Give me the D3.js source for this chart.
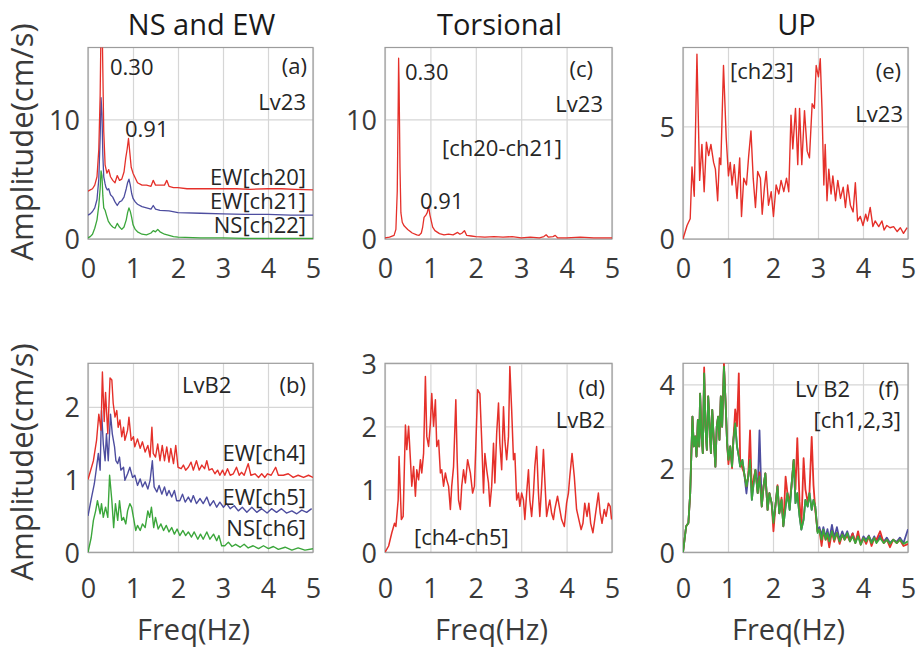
<!DOCTYPE html>
<html><head><meta charset="utf-8">
<script src="https://cdn.jsdelivr.net/npm/d3@7"></script>
<style>
html,body{margin:0;padding:0;background:#fff;}
svg{display:block;font-family:"Open Sans","Noto Sans",sans-serif;}
</style></head>
<body><div id="chart"></div>
<script>
// ---------------- DATA ----------------
const xTicks = [0,1,2,3,4,5];
const titles = ["NS and EW","Torsional","UP"];
const yLabel = "Amplitude(cm/s)";
const xLabel = "Freq(Hz)";

// (a) Lv23 NS and EW
const fA_ew20 = [0,0.05,0.1,0.15,0.2,0.24,0.27,0.29,0.31,0.33,0.35,0.38,0.42,0.46,0.5,0.55,0.6,0.65,0.7,0.75,0.8,0.84,0.87,0.9,0.93,0.96,1.0,1.05,1.1,1.2,1.3,1.4,1.45,1.5,1.6,1.7,1.75,1.8,1.9,2.0,2.2,2.5,2.8,3.0,3.3,3.6,4.0,4.3,4.6,5.0];
const aA_ew20 = [4.0,4.1,4.2,4.5,5.2,7.5,12,18,19,14,9,6.2,5.5,5.8,5.2,4.9,4.7,5.3,4.9,5.0,5.6,6.8,7.5,8.4,7.2,6.0,5.5,5.1,4.7,4.5,4.5,4.4,4.9,4.5,4.5,4.5,4.9,4.4,4.3,4.3,4.2,4.2,4.2,4.2,4.2,4.15,4.2,4.2,4.15,4.1];
const fA_ew21 = [0,0.05,0.1,0.15,0.2,0.24,0.27,0.29,0.31,0.33,0.35,0.38,0.4,0.43,0.46,0.5,0.55,0.6,0.65,0.7,0.75,0.8,0.85,0.88,0.91,0.94,0.97,1.0,1.05,1.1,1.2,1.3,1.4,1.45,1.5,1.6,1.8,2.0,2.5,3.0,3.5,4.0,4.5,5.0];
const aA_ew21 = [2.0,2.1,2.3,2.6,3.3,5,8.5,11.8,10.5,7,5.2,4.6,4.3,4.1,4.2,3.7,3.5,3.1,2.8,3.1,3.2,3.5,4.2,4.7,5.0,4.5,3.8,3.4,3.1,2.9,2.7,2.6,2.5,2.8,2.5,2.4,2.35,2.2,2.15,2.1,2.05,2.05,2.0,2.0];
const fA_ns22 = [0,0.05,0.1,0.15,0.2,0.24,0.27,0.29,0.31,0.33,0.35,0.38,0.41,0.45,0.5,0.55,0.6,0.65,0.7,0.75,0.8,0.85,0.88,0.91,0.94,0.97,1.0,1.05,1.1,1.2,1.3,1.4,1.45,1.5,1.55,1.6,1.7,1.8,1.9,2.0,2.5,3.0,3.5,4.0,4.5,5.0];
const aA_ns22 = [0.1,0.2,0.4,0.9,1.6,2.8,4.2,5.7,5.3,3.6,2.6,2.4,2.0,1.5,1.2,1.0,0.9,1.3,1.0,0.8,1.0,1.6,2.2,2.6,2.3,1.8,1.2,0.8,0.6,0.4,0.35,0.5,0.7,0.6,0.8,0.6,0.4,0.3,0.2,0.15,0.1,0.1,0.05,0.05,0.05,0.05];

// (c) Lv23 torsional [ch20-ch21]
const fC = [0,0.1,0.2,0.24,0.27,0.29,0.3,0.31,0.33,0.35,0.38,0.42,0.5,0.6,0.7,0.75,0.8,0.83,0.86,0.9,0.93,0.96,0.99,1.02,1.05,1.1,1.2,1.3,1.4,1.5,1.6,1.65,1.7,1.75,1.8,1.9,2.0,2.2,2.4,2.6,2.8,3.0,3.2,3.4,3.5,3.55,3.6,3.7,3.75,3.8,4.0,4.3,4.6,5.0];
const aC = [0.1,0.15,0.3,0.8,4,11,15.1,13,6,2.2,1.4,1.1,0.8,0.5,0.35,0.3,0.5,1.0,1.8,2.0,2.2,2.7,2.0,1.5,1.0,0.7,0.45,0.35,0.4,0.35,0.55,0.4,0.5,0.7,0.3,0.25,0.2,0.15,0.2,0.15,0.2,0.1,0.15,0.1,0.2,0.35,0.15,0.2,0.3,0.1,0.1,0.15,0.1,0.1];

// (e) Lv23 UP [ch23]
const fE = [0,0.09,0.16,0.2,0.25,0.31,0.37,0.42,0.47,0.52,0.57,0.62,0.68,0.72,0.77,0.81,0.84,0.9,0.96,1.01,1.05,1.09,1.14,1.2,1.26,1.3,1.35,1.41,1.46,1.51,1.56,1.61,1.66,1.72,1.76,1.81,1.85,1.9,1.96,2.01,2.07,2.13,2.18,2.24,2.3,2.35,2.4,2.44,2.5,2.55,2.59,2.64,2.7,2.76,2.81,2.87,2.92,2.96,3.01,3.05,3.09,3.13,3.16,3.2,3.24,3.29,3.33,3.39,3.44,3.5,3.56,3.61,3.66,3.72,3.78,3.83,3.88,3.94,4.0,4.06,4.1,4.16,4.22,4.27,4.35,4.42,4.47,4.53,4.6,4.68,4.76,4.83,4.9,4.98];
const aE = [0,0.6,0.9,3.2,1.9,8.2,2.6,4.2,2.1,4.3,3.7,4.2,3.4,3.1,1.7,3.6,3.3,7.7,4.5,2.8,3.4,2.4,3.3,1.8,3.6,1.0,2.7,2.4,3.7,4.8,2.7,1.4,3.0,2.7,1.1,2.3,3.0,1.5,2.1,1.0,2.4,2.0,2.6,2.1,2.7,2.1,5.5,4.0,5.8,3.3,5.8,3.3,5.7,3.9,3.6,6.0,5.8,7.7,7.2,8.0,5.7,2.4,4.2,1.7,3.1,2.0,2.8,1.7,2.6,1.8,2.3,1.4,2.4,1.5,1.2,2.5,0.8,1.0,0.6,1.1,0.8,1.4,0.55,0.8,0.55,0.8,0.4,0.6,0.5,0.55,0.33,0.5,0.25,0.5];

// (b) LvB2 NS and EW
const fB_ew4 = [0,0.12,0.19,0.24,0.29,0.32,0.36,0.39,0.44,0.49,0.53,0.56,0.6,0.64,0.67,0.71,0.75,0.79,0.82,0.88,0.91,0.96,1.01,1.04,1.1,1.16,1.21,1.27,1.33,1.38,1.42,1.45,1.5,1.55,1.6,1.65,1.7,1.75,1.8,1.84,1.9,1.95,2.0,2.07,2.12,2.17,2.23,2.29,2.34,2.41,2.47,2.53,2.59,2.64,2.69,2.76,2.82,2.88,2.93,2.99,3.04,3.1,3.16,3.23,3.3,3.36,3.41,3.47,3.56,3.62,3.71,3.79,3.86,3.93,3.99,4.07,4.17,4.23,4.34,4.45,4.56,4.67,4.79,4.9,5.0];
const aB_ew4 = [1.0,1.26,1.54,1.9,1.68,2.48,1.8,2.2,1.63,2.4,2.37,2.05,1.86,1.95,1.72,1.82,1.59,1.72,1.54,1.68,1.86,1.54,1.59,1.45,1.56,1.43,1.52,1.38,1.47,1.31,1.72,1.36,1.31,1.49,1.26,1.47,1.26,1.45,1.24,1.43,1.22,1.47,1.17,1.15,1.2,1.13,1.17,1.24,1.13,1.26,1.13,1.2,1.15,1.26,1.13,1.15,1.08,1.13,1.06,1.13,1.06,1.15,1.06,1.08,1.17,1.06,1.1,1.06,1.22,1.06,1.08,1.03,1.08,1.03,1.08,1.06,1.17,1.06,1.06,1.08,1.03,1.06,1.03,1.06,1.03];
const fB_ew5 = [0,0.08,0.14,0.19,0.23,0.27,0.3,0.34,0.38,0.41,0.45,0.5,0.54,0.59,0.62,0.66,0.7,0.73,0.79,0.82,0.88,0.93,0.99,1.04,1.1,1.16,1.21,1.27,1.33,1.38,1.43,1.47,1.53,1.58,1.64,1.7,1.75,1.8,1.86,1.92,1.97,2.04,2.1,2.16,2.23,2.29,2.34,2.41,2.49,2.56,2.64,2.71,2.79,2.86,2.93,3.01,3.08,3.16,3.25,3.34,3.43,3.53,3.64,3.75,3.86,3.98,4.08,4.19,4.3,4.41,4.53,4.64,4.75,4.86,4.97];
const aB_ew5 = [0.5,0.76,0.94,1.17,1.36,1.13,1.95,1.49,1.26,1.63,1.26,1.9,1.63,1.45,1.26,1.22,1.31,1.13,1.17,0.99,1.08,1.17,1.03,1.06,0.92,1.01,0.9,0.97,0.87,0.99,1.26,0.9,0.83,0.92,0.8,0.9,0.78,0.85,0.76,0.85,0.71,0.71,0.8,0.69,0.76,0.69,0.78,0.67,0.74,0.67,0.76,0.64,0.71,0.62,0.69,0.62,0.67,0.6,0.64,0.57,0.62,0.55,0.62,0.55,0.6,0.54,0.6,0.55,0.6,0.54,0.57,0.53,0.58,0.55,0.6];
const fB_ns6 = [0,0.07,0.12,0.17,0.21,0.27,0.3,0.34,0.39,0.44,0.48,0.53,0.57,0.61,0.66,0.7,0.75,0.79,0.84,0.88,0.93,0.97,1.01,1.06,1.1,1.16,1.21,1.27,1.33,1.37,1.41,1.46,1.5,1.56,1.62,1.68,1.74,1.8,1.86,1.92,1.98,2.04,2.11,2.17,2.23,2.3,2.36,2.44,2.5,2.56,2.64,2.71,2.79,2.86,2.91,2.97,3.04,3.12,3.2,3.28,3.38,3.47,3.56,3.67,3.79,3.9,4.01,4.12,4.23,4.38,4.53,4.67,4.82,5.0];
const aB_ns6 = [0,0.2,0.44,0.57,0.71,0.53,0.67,0.48,0.62,0.48,1.06,0.71,0.34,0.67,0.44,0.71,0.44,0.48,0.39,0.57,0.67,0.62,0.48,0.3,0.37,0.3,0.39,0.34,0.57,0.48,0.62,0.34,0.48,0.32,0.39,0.3,0.37,0.28,0.34,0.25,0.32,0.23,0.3,0.23,0.28,0.21,0.28,0.18,0.25,0.18,0.28,0.18,0.25,0.16,0.23,0.09,0.09,0.14,0.08,0.11,0.07,0.11,0.06,0.09,0.05,0.09,0.05,0.08,0.04,0.07,0.03,0.06,0.03,0.05];

// (d) LvB2 torsional [ch4-ch5]
const fD = [0,0.08,0.15,0.21,0.24,0.29,0.31,0.36,0.4,0.45,0.48,0.52,0.56,0.59,0.63,0.67,0.7,0.74,0.78,0.81,0.85,0.89,0.92,0.96,1.0,1.03,1.07,1.11,1.14,1.18,1.22,1.25,1.29,1.33,1.36,1.4,1.44,1.47,1.51,1.53,1.56,1.59,1.62,1.66,1.69,1.73,1.77,1.82,1.88,1.93,1.97,2.0,2.04,2.09,2.13,2.17,2.2,2.24,2.28,2.31,2.35,2.39,2.42,2.46,2.5,2.53,2.57,2.61,2.64,2.68,2.72,2.75,2.79,2.83,2.86,2.9,2.94,2.97,3.01,3.05,3.08,3.12,3.16,3.19,3.23,3.27,3.3,3.34,3.38,3.41,3.45,3.49,3.52,3.56,3.6,3.63,3.67,3.71,3.74,3.8,3.85,3.89,3.95,4.0,4.04,4.07,4.12,4.17,4.22,4.27,4.32,4.36,4.4,4.45,4.49,4.53,4.58,4.62,4.66,4.7,4.74,4.78,4.83,4.87,4.92,4.96,4.99];
const aD = [0,0.1,0.31,0.46,0.41,0.83,1.52,0.52,0.57,2.02,1.63,2.0,1.47,1.05,1.36,0.89,1.31,1.15,1.47,1.26,1.57,2.79,1.84,1.68,2.05,2.52,2.0,2.42,1.68,1.78,1.26,1.31,1.05,1.26,1.15,1.05,0.68,1.05,1.36,1.78,2.42,1.47,0.83,0.68,1.05,1.31,1.1,1.47,1.26,0.94,1.05,1.68,2.58,2.52,1.78,0.94,1.57,1.31,1.1,0.73,1.05,1.73,1.1,1.89,2.37,1.73,1.31,2.31,1.78,1.47,1.84,2.95,2.26,1.47,1.57,0.83,0.94,0.73,0.94,0.83,0.52,0.94,1.31,0.83,0.57,0.94,1.36,1.68,0.94,0.57,1.05,1.63,1.15,0.57,0.73,0.83,0.62,0.52,0.68,0.89,0.68,0.52,0.41,0.78,0.94,1.2,1.57,1.2,0.68,0.52,0.36,0.46,0.78,0.57,0.78,0.46,0.31,0.52,0.73,0.94,0.62,0.46,0.68,0.57,0.78,0.73,0.52];

// (f) LvB2 UP [ch1,2,3]
const fF = [0,0.07,0.12,0.16,0.21,0.24,0.27,0.3,0.33,0.36,0.38,0.41,0.44,0.47,0.5,0.53,0.56,0.59,0.62,0.65,0.68,0.72,0.75,0.78,0.81,0.84,0.87,0.91,0.95,0.98,1.01,1.05,1.09,1.12,1.16,1.2,1.24,1.27,1.32,1.36,1.41,1.45,1.49,1.53,1.57,1.61,1.66,1.7,1.75,1.79,1.83,1.88,1.92,1.97,2.01,2.06,2.1,2.14,2.19,2.23,2.28,2.32,2.37,2.41,2.46,2.5,2.54,2.59,2.63,2.68,2.72,2.77,2.81,2.86,2.9,2.94,2.99,3.03,3.08,3.12,3.17,3.21,3.25,3.31,3.36,3.42,3.48,3.54,3.59,3.65,3.71,3.77,3.83,3.89,3.95,4.01,4.07,4.13,4.19,4.25,4.3,4.38,4.46,4.53,4.6,4.67,4.75,4.82,4.9,5.0];
const aF_ch1 = [0,0.62,0.7,1.41,3.23,2.52,2.76,2.28,3.15,2.52,3.78,2.83,2.36,4.4,2.99,2.44,3.71,3.07,2.36,3.39,2.76,2.04,2.99,3.23,2.68,3.71,2.99,4.5,3.47,2.6,2.1,2.52,2.0,2.68,3.4,3.0,4.26,2.2,2.0,1.88,1.57,1.81,2.9,1.4,1.75,1.96,1.41,1.9,1.09,1.57,1.88,1.01,1.41,1.17,0.5,1.17,1.6,0.93,1.3,0.62,1.8,1.41,1.2,1.57,2.2,1.5,2.72,1.2,0.6,2.24,1.5,1.2,1.41,2.75,1.6,1.0,0.5,0.54,0.15,0.5,0.3,0.4,0.12,0.5,0.25,0.46,0.2,0.42,0.3,0.4,0.26,0.45,0.22,0.5,0.18,0.34,0.2,0.38,0.15,0.34,0.3,0.5,0.22,0.3,0.12,0.3,0.22,0.3,0.15,0.2];
const aF_ch2 = [0,0.62,0.7,1.41,3.23,2.52,2.76,2.28,3.15,2.52,3.78,2.83,2.36,4.26,2.99,2.44,3.71,3.07,2.36,3.39,2.76,2.04,2.99,3.23,2.68,3.71,2.99,4.42,3.47,2.6,2.2,2.52,2.04,2.68,3.07,2.52,2.28,2.04,2.2,1.88,1.4,1.81,2.2,1.25,1.65,1.96,1.41,2.9,1.09,1.57,1.88,1.01,1.41,1.17,0.7,1.17,1.57,0.93,1.25,0.62,1.09,1.41,1.01,1.57,2.2,1.17,1.41,0.86,0.54,0.78,1.25,1.09,1.41,1.01,1.25,1.09,0.5,0.6,0.4,0.6,0.35,0.55,0.3,0.65,0.35,0.6,0.3,0.5,0.35,0.5,0.3,0.45,0.25,0.4,0.22,0.38,0.3,0.4,0.25,0.38,0.25,0.4,0.25,0.35,0.22,0.3,0.25,0.35,0.22,0.55];
const aF_ch3 = [0,0.62,0.7,1.41,3.23,2.52,2.76,2.28,3.15,2.52,3.78,2.83,2.36,4.26,2.99,2.44,3.71,3.07,2.36,3.39,2.76,2.04,2.99,3.23,2.68,3.71,2.99,4.42,3.47,2.6,2.2,2.52,2.04,2.68,3.07,2.52,2.28,2.04,2.2,1.88,1.57,1.81,2.2,1.25,1.65,1.96,1.41,1.81,1.09,1.57,1.88,1.01,1.41,1.17,0.7,1.17,1.57,0.93,1.25,0.62,1.09,1.41,1.01,1.57,2.2,1.17,1.41,0.86,0.54,0.78,1.25,1.09,1.41,1.01,1.25,1.09,0.46,0.54,0.3,0.54,0.3,0.46,0.26,0.5,0.3,0.46,0.26,0.42,0.3,0.46,0.26,0.38,0.22,0.38,0.18,0.34,0.26,0.38,0.22,0.34,0.22,0.34,0.22,0.3,0.2,0.3,0.22,0.3,0.2,0.26];

// ---------------- STYLE / LAYOUT ----------------
const RED = "#e5302a", BLUE = "#4d4d9f", GREEN = "#3ba63b";
const W = 920, H = 654;
const cols = [{l:88,r:313},{l:385,r:612},{l:683,r:908}];
const rows = [{t:47.5,b:239,xlab:278},{t:363.3,b:552.3,xlab:598}];

const svg = d3.select("#chart").append("svg").attr("width",W).attr("height",H);

const panels = [
  {id:"a", c:0, r:0, ymax:16, yTicks:[0,10], sw:1.3,
   series:[[fA_ns22,aA_ns22,GREEN],[fA_ew21,aA_ew21,BLUE],[fA_ew20,aA_ew20,RED]],
   notes:[["0.30",110,75,"start"],["(a)",307,74,"end"],["Lv23",306,110,"end"],["0.91",125,137,"start"],
          ["EW[ch20]",306,185,"end"],["EW[ch21]",306,209,"end"],["NS[ch22]",306,233,"end"]]},
  {id:"c", c:1, r:0, ymax:16, yTicks:[0,10], sw:1.3,
   series:[[fC,aC,RED]],
   notes:[["0.30",405,80,"start"],["(c)",593,77,"end"],["Lv23",603,112,"end"],["[ch20-ch21]",442,156,"start"],["0.91",420,209,"start"]]},
  {id:"e", c:2, r:0, ymax:8.5, yTicks:[0,5], sw:1.4,
   series:[[fE,aE,RED]],
   notes:[["[ch23]",730,79,"start"],["(e)",901,79,"end"],["Lv23",903,122,"end"]]},
  {id:"b", c:0, r:1, ymax:2.6, yTicks:[0,1,2], sw:1.4,
   series:[[fB_ns6,aB_ns6,GREEN],[fB_ew5,aB_ew5,BLUE],[fB_ew4,aB_ew4,RED]],
   notes:[["LvB2",182,393,"start"],["(b)",306,393,"end"],["EW[ch4]",306,461,"end"],["EW[ch5]",306,505,"end"],["NS[ch6]",306,536,"end"]]},
  {id:"d", c:1, r:1, ymax:3, yTicks:[0,1,2,3], sw:1.5,
   series:[[fD,aD,RED]],
   notes:[["(d)",605,396,"end"],["LvB2",605,428,"end"],["[ch4-ch5]",414,545,"start"]]},
  {id:"f", c:2, r:1, ymax:4.5, yTicks:[0,2,4], sw:1.8,
   series:[[fF,aF_ch2,BLUE],[fF,aF_ch1,RED],[fF,aF_ch3,GREEN]],
   notes:[["Lv B2",795,397,"start"],["(f)",899,397,"end"],["[ch1,2,3]",901,428,"end"]]}
];

panels.forEach(p => {
  const col = cols[p.c], row = rows[p.r];
  const x = d3.scaleLinear().domain([0,5]).range([col.l,col.r]);
  const y = d3.scaleLinear().domain([0,p.ymax]).range([row.b,row.t]);
  const g = svg.append("g");
  const w = col.r-col.l, h = row.b-row.t;

  // grid + x tick labels
  const gx = g.append("g").attr("transform",`translate(0,${row.b})`)
    .call(d3.axisBottom(x).tickValues(xTicks).tickSize(-h).tickFormat(d3.format("d")));
  gx.select(".domain").remove();
  gx.selectAll(".tick line").attr("stroke","#d6d6d6").attr("stroke-width",1.2);
  gx.selectAll(".tick text").attr("y",row.xlab-row.b).attr("dy",0)
    .attr("fill","#3a3a3a").style("font-size","27px").style("font-family","'Open Sans'");

  const gy = g.append("g").attr("transform",`translate(${col.l},0)`)
    .call(d3.axisLeft(y).tickValues(p.yTicks).tickSize(-w).tickFormat(d3.format("d")));
  gy.select(".domain").remove();
  gy.selectAll(".tick line").attr("stroke","#d6d6d6").attr("stroke-width",1.2);
  gy.selectAll(".tick text").attr("x",-8).attr("dy","0.36em")
    .attr("fill","#3a3a3a").style("font-size","27px").style("font-family","'Open Sans'");

  // frame
  g.append("rect").attr("x",col.l).attr("y",row.t).attr("width",w).attr("height",h)
    .attr("fill","none").attr("stroke","#9c9c9c").attr("stroke-width",1.2);

  // clip
  const cid = "clip-"+p.id;
  svg.append("clipPath").attr("id",cid).append("rect")
    .attr("x",col.l).attr("y",row.t).attr("width",w).attr("height",h);

  const line = d3.line().x(d=>x(d[0])).y(d=>y(d[1]));
  const lg = g.append("g").attr("clip-path",`url(#${cid})`);
  p.series.forEach(([f,a,color]) => {
    lg.append("path").datum(d3.zip(f,a)).attr("d",line)
      .attr("fill","none").attr("stroke",color).attr("stroke-width",p.sw).attr("stroke-linejoin","round");
  });

  // annotations
  p.notes.forEach(([t,tx,ty,anchor]) => {
    g.append("text").attr("x",tx).attr("y",ty).attr("text-anchor",anchor)
      .attr("fill","#262626").style("font-size","22px").text(t);
  });

  // x label on bottom row
  if (p.r === 1) {
    svg.append("text").attr("x",(col.l+col.r)/2-7).attr("y",640).attr("text-anchor","middle")
      .attr("fill","#3a3a3a").style("font-size","29px").text(xLabel);
  }
  if (p.r === 0) {
    svg.append("text").attr("x",(col.l+col.r)/2+1).attr("y",35).attr("text-anchor","middle")
      .attr("fill","#1a1a1a").style("font-size","29px").text(titles[p.c]);
  }
});

// y labels
[142, 462].forEach(cy => {
  svg.append("text").attr("transform",`translate(33,${cy}) rotate(-90)`)
    .attr("text-anchor","middle").attr("fill","#3a3a3a").style("font-size","31px").text(yLabel);
});
</script>
</body></html>
